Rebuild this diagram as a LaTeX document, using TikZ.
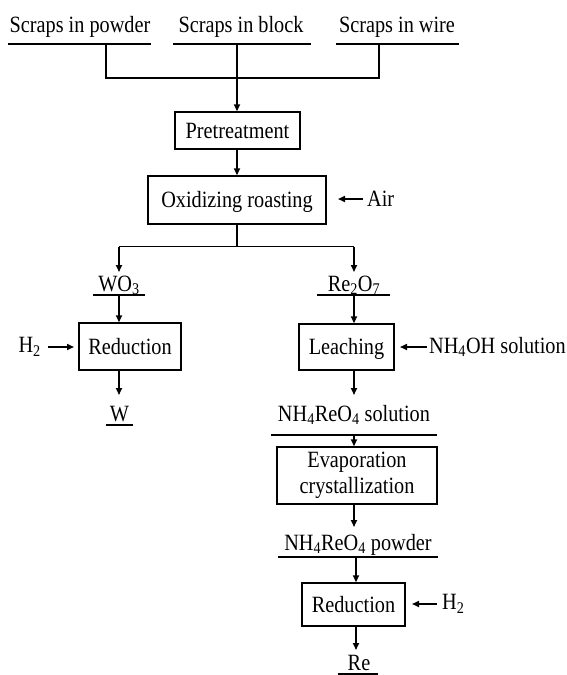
\documentclass[tikz,border=0pt]{standalone}
\usepackage{fontspec}
\setmainfont{Liberation Serif}[FakeStretch=0.87]
\usetikzlibrary{arrows.meta}
\tikzset{
  proc/.style={draw, line width=1.4pt, align=center, inner sep=0pt},
  one/.style={text height=18pt, text depth=2.8pt},
  lbl/.style={anchor=base, inner sep=0pt},
  ln/.style={line width=1.6pt},
  arr/.style={line width=1.6pt, -{Triangle[length=7pt,width=6pt]}},
}
\begin{document}
\begin{tikzpicture}[x=1pt,y=-1pt,
  every node/.append style={font=\fontsize{23.3}{26}\selectfont}]
\useasboundingbox (0,0) rectangle (567,675);

% top inputs
\node[lbl] (powder) at (80,32) {Scraps in powder};
\node[lbl] (block) at (241,32) {Scraps in block};
\node[lbl] (wire) at (397,32) {Scraps in wire};
\draw[ln] (8,44) -- (151,44);
\draw[ln] (173,44) -- (311,44);
\draw[ln] (336,44) -- (459,44);
\coordinate (dpow) at (106,44);
\coordinate (dblk) at (237,44);
\coordinate (dwir) at (379,44);
\coordinate (jpow) at (106,78);
\coordinate (jblk) at (237,78);
\coordinate (jwir) at (379,78);
\draw[ln] (dpow) -- (jpow) -- (jwir) -- (dwir);
\draw[ln] (dblk) -- (jblk);

% process boxes
\node[proc, one, minimum width=125pt, minimum height=37pt] (pre) at (237.5,130.5) {Pretreatment};
\node[proc, one, minimum width=178pt, minimum height=48pt] (oxi) at (237,200) {Oxidizing roasting};
\node[proc, one, minimum width=102pt, minimum height=47pt] (red1) at (130,346.5) {Reduction};
\node[proc, one, minimum width=95pt, minimum height=46pt] (leach) at (346.5,347) {Leaching};
\node[proc, minimum width=160pt, minimum height=57pt] (evap) at (357,475.5) {Evaporation\\crystallization};
\node[proc, one, minimum width=103pt, minimum height=43pt] (red2) at (353.5,604.5) {Reduction};

\draw[arr] (jblk) -- (jblk |- pre.north);
\draw[arr] (pre.south -| jblk) -- (oxi.north -| jblk);

% air
\node[anchor=west, inner sep=0pt] (air) at (367,199) {Air};
\coordinate (airtip) at (338,199);
\draw[arr] (air.west) ++(-4,0) -- (airtip);

% split
\coordinate (sc) at (237,246.5);
\coordinate (sl) at (119,246.5);
\coordinate (sr) at (354,246.5);
\coordinate (tl) at (119,272);
\coordinate (tr) at (354,272);
\draw[ln] (oxi.south -| sc) -- (sc);
\draw[ln] (sl) -- (sr);
\draw[arr] (sl) -- (tl);
\draw[arr] (sr) -- (tr);

% left branch
\node[lbl] (wo3) at (119,291) {WO\textsubscript{3}};
\draw[ln] (93,295) -- (145,295);
\coordinate (uwo) at (119,295);
\draw[arr] (uwo) -- (uwo |- red1.north);
\node[anchor=east, inner sep=0pt] (h2a) at (41,347) {H\textsubscript{2}};
\coordinate (h2atip) at (74,347);
\draw[arr] (h2a.east) ++(7,0) -- (h2atip);
\coordinate (wtip) at (119,395);
\draw[arr] (red1.south -| wtip) -- (wtip);
\node[lbl] (w) at (119.5,421) {W};
\draw[ln] (106,425) -- (133,425);

% right branch
\node[lbl] (re2o7) at (354,291) {Re\textsubscript{2}O\textsubscript{7}};
\draw[ln] (317,295) -- (390,295);
\coordinate (ure) at (354,295);
\draw[arr] (ure) -- (ure |- leach.north);
\node[anchor=west, inner sep=0pt] (nh4oh) at (429,347) {NH\textsubscript{4}OH solution};
\coordinate (nhtip) at (400,347);
\draw[arr] (nh4oh.west) ++(-2,0) -- (nhtip);
\coordinate (soltip) at (354,395);
\draw[arr] (leach.south -| soltip) -- (soltip);
\node[lbl] (sol) at (354,421) {NH\textsubscript{4}ReO\textsubscript{4} solution};
\draw[ln] (271,435) -- (437,435);
\coordinate (usol) at (354,435);
\draw[arr] (usol) -- (usol |- evap.north);
\coordinate (powtip) at (354,527);
\draw[arr] (evap.south -| powtip) -- (powtip);
\node[lbl] (pow) at (358,550) {NH\textsubscript{4}ReO\textsubscript{4} powder};
\draw[ln] (278,557) -- (438,557);
\coordinate (upow) at (356,557);
\draw[arr] (upow) -- (upow |- red2.north);
\node[anchor=west, inner sep=0pt] (h2b) at (442,604) {H\textsubscript{2}};
\coordinate (h2btip) at (412,604);
\draw[arr] (h2b.west) ++(-5,0) -- (h2btip);
\coordinate (retip) at (356,650);
\draw[arr] (red2.south -| retip) -- (retip);
\node[lbl] (re) at (359,670) {Re};
\draw[ln] (338,674) -- (378,674);
\end{tikzpicture}
\end{document}
